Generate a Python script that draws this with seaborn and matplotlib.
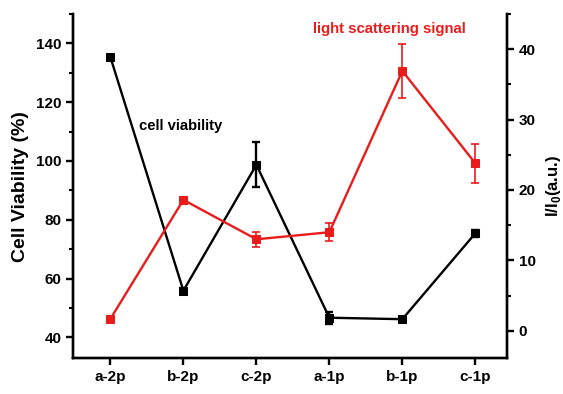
import numpy as np
import pandas as pd
import matplotlib
matplotlib.use("Agg")
import matplotlib.pyplot as plt
from matplotlib.ticker import MultipleLocator
import seaborn as sns

samples = ["a-2p", "b-2p", "c-2p", "a-1p", "b-1p", "c-1p"]
viability = [135.3, 55.9, 98.7, 46.7, 46.2, 75.4]
viability_err = [0.6, 0.8, 7.6, 2.0, 0.7, 1.2]
scatter = [1.7, 18.6, 13.0, 14.0, 36.9, 23.8]
scatter_err = [0.3, 0.4, 1.1, 1.25, 3.9, 2.8]

sns.set_style("ticks")
plt.rcParams["font.family"] = ["Liberation Sans", "DejaVu Sans"]
plt.rcParams["font.weight"] = "bold"
plt.rcParams["axes.edgecolor"] = "black"
plt.rcParams["xtick.color"] = "black"
plt.rcParams["ytick.color"] = "black"
plt.rcParams["text.color"] = "black"
plt.rcParams["axes.labelcolor"] = "black"

df = pd.DataFrame({
    "pos": np.arange(len(samples)),
    "viability": viability,
    "scatter": scatter,
})

fig = plt.figure(figsize=(5.63, 3.94), dpi=100)
ax = fig.add_axes([0.130, 0.0906, 0.770, 0.874])
ax2 = ax.twinx()

black = "#000000"
red = "#ea1b1b"

sns.lineplot(data=df, x="pos", y="viability", ax=ax, color=black, lw=1.7,
             marker="s", markersize=5.5, markeredgecolor=black, zorder=3)
ax.errorbar(df["pos"], viability, yerr=viability_err, fmt="none",
            ecolor=black, elinewidth=1.7, capsize=3, capthick=1.7, zorder=3)

sns.lineplot(data=df, x="pos", y="scatter", ax=ax2, color=red, lw=1.7,
             marker="s", markersize=5.5, markeredgecolor=red, zorder=3)
ax2.errorbar(df["pos"], scatter, yerr=scatter_err, fmt="none",
             ecolor=red, elinewidth=1.2, capsize=3, capthick=1.2, zorder=3)

ax.set_xlim(-0.51, 5.43)
ax.set_ylim(32.9, 150)
ax2.set_ylim(-3.9, 45)

ax.set_xticks(df["pos"])
ax.set_xticklabels(samples)
ax.yaxis.set_major_locator(MultipleLocator(20))
ax.yaxis.set_minor_locator(MultipleLocator(10))
ax2.yaxis.set_major_locator(MultipleLocator(10))
ax2.yaxis.set_minor_locator(MultipleLocator(5))

for a in (ax, ax2):
    a.spines["top"].set_visible(False)
    for s in a.spines.values():
        s.set_linewidth(1.7)
        s.set_color("black")
    a.tick_params(which="major", length=5, width=1.7, labelsize=11, direction="out",
                  colors="black")
    a.tick_params(which="minor", length=3, width=1.5, direction="out", colors="black")
    for lab in a.get_xticklabels() + a.get_yticklabels():
        lab.set_fontweight("bold")

ax.set_xlabel("")
ax.set_ylabel("Cell Viability (%)", fontsize=14, fontweight="bold", labelpad=5)
ax2.set_ylabel(r"I/I$_\mathregular{0}$(a.u.)", fontsize=12, fontweight="bold",
               rotation=90, labelpad=6)

ax.text(0.152, 0.675, "cell viability", transform=ax.transAxes,
        fontsize=10.7, fontweight="bold", color=black, va="center")
ax2.text(0.553, 0.956, "light scattering signal", transform=ax.transAxes,
         fontsize=10.7, fontweight="bold", color=red, va="center")

fig.savefig("out.png", dpi=100)
